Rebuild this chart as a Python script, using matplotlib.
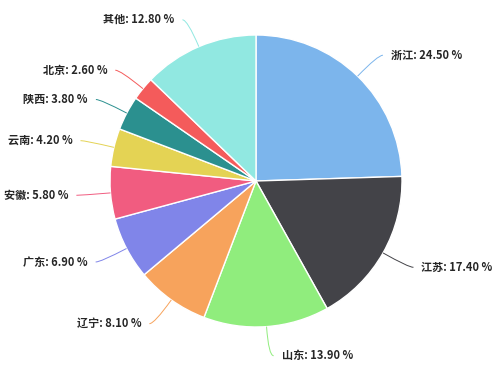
import numpy as np
import matplotlib
matplotlib.use("Agg")
import matplotlib.pyplot as plt
from matplotlib.path import Path
from matplotlib.patches import PathPatch

plt.rcParams['font.family'] = ['Noto Sans CJK SC', 'DejaVu Sans']

# share by province (%)
provinces = ['浙江', '江苏', '山东', '辽宁', '广东', '安徽', '云南', '陕西', '北京', '其他']
shares = [24.5, 17.4, 13.9, 8.1, 6.9, 5.8, 4.2, 3.8, 2.6, 12.8]
colors = ['#7cb5ec', '#434348', '#90ed7d', '#f7a35c', '#8085e9',
          '#f15c80', '#e4d354', '#2b908f', '#f45b5b', '#91e8e1']

W, H = 500, 372
cx, cy, r = 256, 191, 146

fig = plt.figure(figsize=(W / 100, H / 100), dpi=100)
ax = fig.add_axes([0, 0, 1, 1])

wedges, _ = ax.pie(shares, colors=colors, startangle=90, counterclock=False,
                   center=(cx, cy), radius=r,
                   wedgeprops=dict(edgecolor='white', linewidth=1))
ax.set_xlim(0, W)
ax.set_ylim(0, H)
ax.set_aspect('equal')
ax.axis('off')

# labels with soft connectors
for w, name, val, col in zip(wedges, provinces, shares, colors):
    ang = np.deg2rad((w.theta1 + w.theta2) / 2)
    c, s = np.cos(ang), np.sin(ang)
    x0, y0 = cx + r * c, cy + r * s
    xm, ym = cx + 1.2 * r * c, cy + 1.2 * r * s
    side = 1 if c >= 0 else -1
    xe = xm + 5 * side
    path = Path([(x0, y0), (xm, ym), (xe, ym)], [Path.MOVETO, Path.CURVE3, Path.CURVE3])
    ax.add_patch(PathPatch(path, fill=False, edgecolor=col, linewidth=0.7))
    ax.text(xm + 13 * side, ym, f'{name}: {val:.2f} %', ha='left' if side > 0 else 'right',
            va='center', fontsize=8, fontweight='bold', color='#262626')

fig.savefig('out.png', dpi=100)
